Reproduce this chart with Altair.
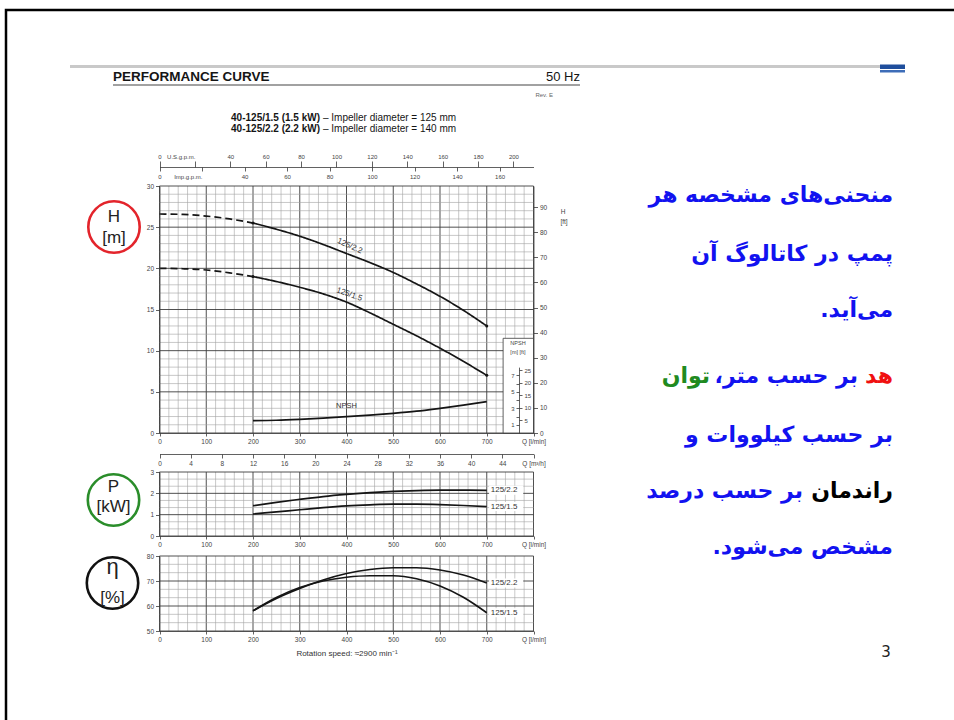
import math
import altair as alt
import pandas as pd

# ---------------------------------------------------------------------------
# Catalogue readings (flow Q in l/min)
# ---------------------------------------------------------------------------
Q_HEAD = [0, 50, 100, 150, 200, 250, 300, 350, 400, 450, 500, 550, 600, 650, 700]
HEAD_22 = [26.6, 26.55, 26.35, 26.0, 25.5, 24.75, 23.9, 22.9, 21.8, 20.7, 19.5, 18.1, 16.6, 14.9, 13.0]
HEAD_15 = [20.0, 19.95, 19.8, 19.45, 19.0, 18.4, 17.7, 16.9, 15.9, 14.6, 13.2, 11.8, 10.3, 8.7, 7.0]

Q_DUTY = [200, 250, 300, 350, 400, 450, 500, 550, 600, 650, 700]
NPSH_M = [1.5, 1.55, 1.66, 1.8, 1.98, 2.18, 2.39, 2.65, 3.0, 3.38, 3.8]
POWER_22 = [1.42, 1.58, 1.72, 1.85, 1.95, 2.03, 2.09, 2.13, 2.15, 2.15, 2.14]
POWER_15 = [1.03, 1.13, 1.23, 1.33, 1.41, 1.46, 1.49, 1.49, 1.47, 1.43, 1.38]
EFF_22 = [58.1, 63.0, 67.0, 70.4, 73.0, 74.6, 75.3, 75.3, 74.4, 72.4, 69.2]
EFF_15 = [58.1, 63.4, 67.4, 70.0, 71.5, 72.1, 72.1, 70.9, 68.0, 63.5, 57.3]

MODELS = ["125/2.2", "125/1.5"]
Q_SOLID_FROM = 200          # head curves are dashed below this flow
Q_LABEL = 400               # where the head / NPSH curves are labelled

# tick values of the different scales
Q_TICKS = list(range(0, 801, 100))
M3H_TICKS = list(range(0, 49, 4))
USGPM_TICKS = list(range(0, 201, 20))
IMPGPM_TICKS = list(range(0, 161, 20))
H_TICKS = list(range(0, 31, 5))
FT_TICKS = list(range(0, 91, 10))
P_TICKS = [0, 1, 2, 3]
ETA_TICKS = [50, 60, 70, 80]
NPSH_M_TICKS = [1, 2, 3, 4, 5, 6, 7]
NPSH_FT_TICKS = [5, 10, 15, 20, 25]

# unit conversions
L_PER_USGAL = 3.785411784
L_PER_IMPGAL = 4.54609
M_PER_FT = 0.3048
Q_MAX = 800.0
H_MAX = 30.0
NPSH_MAX = 8.0

# ---------------------------------------------------------------------------
# Page layout (pixels)
# ---------------------------------------------------------------------------
W, HGT = 954, 720
X_LEFT, X_RIGHT = 159.5, 533.5          # Q = 0 and Q = 800 l/min
Y_H = (433.0, 186.0)                      # H = 0 and H = 30 m
Y_P = (536.0, 472.0)                      # P = 0 and P = 3 kW
Y_E = (631.0, 556.0)                      # eta = 50 and 80 %
Y_GPM_LINE = 167.0
Y_M3H_LINE = 454.0
X_NPSH_AXIS = 519.0
PX_PER_M = (Y_H[0] - Y_H[1]) / H_MAX

FONT = "Liberation Sans"
FA_FONT = "DejaVu Sans"
INK = "#151515"
BLUE, RED, GREEN, BLACK = "#1212f0", "#f01010", "#208a20", "#000000"

ONE = pd.DataFrame({"k": [0]})


def sc(domain, rng):
    return alt.Scale(domain=list(domain), range=list(rng), nice=False, zero=False)


q_sc = sc([0, Q_MAX], [X_LEFT, X_RIGHT])
h_sc = sc([0, H_MAX], Y_H)
ft_sc = sc([0, H_MAX / M_PER_FT], Y_H)
p_sc = sc([0, 3], Y_P)
e_sc = sc([50, 80], Y_E)
usgpm_sc = sc([0, Q_MAX / L_PER_USGAL], [X_LEFT, X_RIGHT])
impgpm_sc = sc([0, Q_MAX / L_PER_IMPGAL], [X_LEFT, X_RIGHT])
m3h_sc = sc([0, Q_MAX * 60 / 1000], [X_LEFT, X_RIGHT])
npsh_rng = [Y_H[0], Y_H[0] - NPSH_MAX * PX_PER_M]
npsh_m_sc = sc([0, NPSH_MAX], npsh_rng)
npsh_ft_sc = sc([0, NPSH_MAX / M_PER_FT], npsh_rng)

AX = dict(title=None, grid=False, labelFont=FONT, labelFontSize=6.5, labelColor="#444",
          tickColor="#3a3a3a", domainColor="#3a3a3a", tickWidth=0.8, domainWidth=0.8,
          labelFlush=False, labelOverlap=False, format="d", labelPadding=2, zindex=1)


def axis_layer(channel, scale, values, **kw):
    opts = dict(AX)
    opts.update(kw)
    ax = alt.Axis(values=values, **opts)
    df = pd.DataFrame({"v": [values[0]]})
    enc = alt.X("v:Q", scale=scale, axis=ax) if channel == "x" else alt.Y("v:Q", scale=scale, axis=ax)
    return alt.Chart(df).mark_point(opacity=0).encode(**{channel: enc})


def text(txt, x, y, size=8, color=INK, align="center", weight="normal", font=FONT,
         baseline="middle", angle=0):
    return alt.Chart(ONE).mark_text(text=txt, align=align, baseline=baseline, fontSize=size,
                                    fontWeight=weight, font=font, color=color,
                                    angle=angle).encode(x=alt.value(x), y=alt.value(y))


def box(x0, x1, y0, y1, **kw):
    return alt.Chart(ONE).mark_rect(**kw).encode(
        x=alt.value(x0), x2=alt.value(x1), y=alt.value(y0), y2=alt.value(y1))


def grid(y_scale, y_lo, y_hi, y_step, y_major):
    rows = []
    q = 0
    while q <= Q_MAX + 1e-9:
        rows.append(dict(x0=q, x1=q, y0=y_lo, y1=y_hi, major=(round(q) % 100 == 0)))
        q += 20
    n = int(round((y_hi - y_lo) / y_step))
    for i in range(n + 1):
        v = y_lo + i * y_step
        rows.append(dict(x0=0, x1=Q_MAX, y0=v, y1=v,
                         major=abs((v - y_lo) / y_major - round((v - y_lo) / y_major)) < 1e-6))
    df = pd.DataFrame(rows)
    return alt.Chart(df).mark_rule().encode(
        x=alt.X("x0:Q", scale=q_sc, axis=None), x2="x1:Q",
        y=alt.Y("y0:Q", scale=y_scale, axis=None), y2="y1:Q",
        color=alt.condition("datum.major", alt.value("#3c3c3c"), alt.value("#a2a2a2")),
        strokeWidth=alt.condition("datum.major", alt.value(0.9), alt.value(0.6)),
    )


def curve(y_scale, q, ys, width=1.7):
    df = pd.DataFrame({"q": q, "y": ys})
    return alt.Chart(df).mark_line(color=INK, strokeWidth=width, interpolate="monotone").encode(
        x=alt.X("q:Q", scale=q_sc, axis=None), y=alt.Y("y:Q", scale=y_scale, axis=None))


def end_labels(y_scale, values):
    df = pd.DataFrame({"q": [Q_DUTY[-1]] * 2, "y": values, "label": MODELS})
    df["q0"] = df["q"] + 5
    df["q1"] = df["q"] + 78
    bg = alt.Chart(df).mark_rect(fill="white", height=9).encode(
        x=alt.X("q0:Q", scale=q_sc, axis=None), x2="q1:Q",
        y=alt.Y("y:Q", scale=y_scale, axis=None))
    tx = alt.Chart(df).mark_text(align="left", dx=4, fontSize=8, font=FONT, color="#333").encode(
        x=alt.X("q:Q", scale=q_sc, axis=None), y=alt.Y("y:Q", scale=y_scale, axis=None),
        text="label:N")
    return [bg, tx]


layers = []

# slide decoration
layers.append(box(70, 880, 65, 68, fill="#c9c9c9"))
layers.append(box(880, 905, 64.5, 69, fill="#1f4e9c"))
layers.append(box(880, 905, 70, 72.5, fill="#3d6db8"))

# header of the data sheet
layers.append(text("PERFORMANCE CURVE", 113, 77, size=13.5, weight="bold", align="left"))
layers.append(text("50 Hz", 580, 77, size=13, align="right"))
layers.append(box(113, 580, 84.5, 85.5, fill="#444"))
layers.append(text("Rev. E", 553, 95, size=6, align="right", color="#666"))
layers.append(text("40-125/1.5 (1.5 kW)", 320, 117.5, size=10, weight="bold", align="right"))
layers.append(text("– Impeller diameter = 125 mm", 323, 117.5, size=10, align="left"))
layers.append(text("40-125/2.2 (2.2 kW)", 320, 128.5, size=10, weight="bold", align="right"))
layers.append(text("– Impeller diameter = 140 mm", 323, 128.5, size=10, align="left"))

# grids
layers.append(grid(h_sc, 0, 30, 1, 5))
layers.append(grid(p_sc, 0, 3, 1 / 3, 1))
layers.append(grid(e_sc, 50, 80, 10 / 3, 10))

# head curves: dashed outside the working range, solid inside
head_rows = []
for model, hs in zip(MODELS, [HEAD_22, HEAD_15]):
    for q, h in zip(Q_HEAD, hs):
        if q <= Q_SOLID_FROM:
            head_rows.append(dict(q=q, h=h, model=model, seg="dash", key=model + "d"))
        if q >= Q_SOLID_FROM:
            head_rows.append(dict(q=q, h=h, model=model, seg="solid", key=model + "s"))
head_df = pd.DataFrame(head_rows)
layers.append(alt.Chart(head_df).mark_line(color=INK, strokeWidth=1.7, interpolate="monotone").encode(
    x=alt.X("q:Q", scale=q_sc, axis=None), y=alt.Y("h:Q", scale=h_sc, axis=None),
    detail="key:N",
    strokeDash=alt.StrokeDash("seg:N", scale=alt.Scale(domain=["dash", "solid"], range=[[7, 4], [1, 0]]),
                              legend=None)))
dots = head_df[(head_df.seg == "solid") & (head_df.q.isin([Q_SOLID_FROM, Q_HEAD[-1]]))]
layers.append(alt.Chart(dots).mark_point(filled=True, size=9, color=INK, opacity=1).encode(
    x=alt.X("q:Q", scale=q_sc, axis=None), y=alt.Y("h:Q", scale=h_sc, axis=None)))

i_lab = Q_HEAD.index(Q_LABEL)
for model, hs, ang in zip(MODELS, [HEAD_22, HEAD_15], [24, 20]):
    df = pd.DataFrame({"q": [Q_LABEL], "h": [hs[i_lab]], "label": [model]})
    layers.append(alt.Chart(df).mark_text(fontSize=8, font=FONT, color="#333", angle=ang, dy=-8).encode(
        x=alt.X("q:Q", scale=q_sc, axis=None), y=alt.Y("h:Q", scale=h_sc, axis=None), text="label:N"))

# NPSH curve and its inset scale
layers.append(curve(h_sc, Q_DUTY, NPSH_M))
j_lab = Q_DUTY.index(Q_LABEL)
layers.append(alt.Chart(pd.DataFrame({"q": [Q_LABEL], "h": [NPSH_M[j_lab]], "label": ["NPSH"]}))
              .mark_text(fontSize=7.5, font=FONT, color="#333", dy=-11)
              .encode(x=alt.X("q:Q", scale=q_sc, axis=None), y=alt.Y("h:Q", scale=h_sc, axis=None),
                      text="label:N"))
npsh_box = pd.DataFrame({"q0": [735], "q1": [Q_MAX], "h0": [0], "h1": [11.5]})
layers.append(alt.Chart(npsh_box).mark_rect(fill="white", stroke="#3a3a3a", strokeWidth=0.8).encode(
    x=alt.X("q0:Q", scale=q_sc, axis=None), x2="q1:Q",
    y=alt.Y("h0:Q", scale=h_sc, axis=None), y2="h1:Q"))
layers.append(text("NPSH", 518, 343, size=5.5, color="#444"))
layers.append(text("[m]  [ft]", 518, 352, size=5.5, color="#444"))
layers.append(axis_layer("y", npsh_m_sc, NPSH_M_TICKS, orient="left", offset=-X_NPSH_AXIS, tickSize=3,
                         labelFontSize=6, labelExpr="datum.value % 2 == 1 ? datum.label : ''"))
layers.append(axis_layer("y", npsh_ft_sc, NPSH_FT_TICKS, orient="right", offset=X_NPSH_AXIS - W,
                         tickSize=3, labelFontSize=6, domain=False))

# power and efficiency curves
for ys in (POWER_22, POWER_15):
    layers.append(curve(p_sc, Q_DUTY, ys))
for ys in (EFF_22, EFF_15):
    layers.append(curve(e_sc, Q_DUTY, ys))
layers += end_labels(p_sc, [POWER_22[-1], POWER_15[-1]])
layers += end_labels(e_sc, [EFF_22[-1], EFF_15[-1]])

# axes of the head chart
q_expr = "datum.value == 800 ? 'Q [l/min]' : datum.label"
layers.append(axis_layer("y", h_sc, H_TICKS, orient="left", offset=-X_LEFT, tickSize=4))
layers.append(axis_layer("y", ft_sc, FT_TICKS, orient="right", offset=X_RIGHT - W, tickSize=4))
layers.append(axis_layer("x", q_sc, Q_TICKS, orient="bottom", offset=Y_H[0] - HGT, tickSize=3,
                         labelExpr=q_expr))
layers.append(axis_layer("x", m3h_sc, M3H_TICKS, orient="bottom", offset=Y_M3H_LINE - HGT, tickSize=4,
                         labelExpr="datum.value == 48 ? 'Q [m³/h]' : datum.label"))
layers.append(axis_layer("x", usgpm_sc, USGPM_TICKS, orient="top", offset=-Y_GPM_LINE, tickSize=6,
                         labelFontSize=6,
                         labelExpr="datum.value == 20 ? 'U.S.g.p.m.' : datum.label",
                         labelAlign={"condition": {"test": "datum.value == 20", "value": "right"},
                                     "value": "center"}))
layers.append(axis_layer("x", impgpm_sc, IMPGPM_TICKS, orient="bottom", offset=Y_GPM_LINE - HGT,
                         tickSize=4, domain=False, labelFontSize=6,
                         labelExpr="datum.value == 20 ? 'Imp.g.p.m.' : datum.label",
                         labelAlign={"condition": {"test": "datum.value == 20", "value": "right"},
                                     "value": "center"}))
layers.append(text("H", 563, 212, size=6.5, color="#444"))
layers.append(text("[ft]", 564, 222, size=6.5, color="#444"))

# axes of the power and efficiency charts
layers.append(axis_layer("y", p_sc, P_TICKS, orient="left", offset=-X_LEFT, tickSize=4))
layers.append(axis_layer("x", q_sc, Q_TICKS, orient="bottom", offset=Y_P[0] - HGT, tickSize=3,
                         labelExpr=q_expr))
layers.append(axis_layer("y", e_sc, ETA_TICKS, orient="left", offset=-X_LEFT, tickSize=4))
layers.append(axis_layer("x", q_sc, Q_TICKS, orient="bottom", offset=Y_E[0] - HGT, tickSize=3,
                         labelExpr=q_expr))
layers.append(text("Rotation speed: ≈2900 min⁻¹", 347, 654, size=8, color="#333"))

# quantity badges
R_BADGE = 29
badge_size = math.pi * R_BADGE ** 2
for (cx, cy, col), lines in zip(
        [(114, 227, "#e3242b"), (113.5, 500, "#2a8d2a"), (112.5, 583, "#111111")],
        [[("H", 217, 17), ("[m]", 238, 17)], [("P", 487, 17), ("[kW]", 507, 17)],
         [("η", 567, 22), ("[%]", 598, 17)]]):
    layers.append(alt.Chart(ONE).mark_point(shape="circle", filled=False, size=badge_size, color=col,
                                             strokeWidth=2.6, opacity=1)
                  .encode(x=alt.value(cx), y=alt.value(cy)))
    for t, ty, fs in lines:
        layers.append(text(t, cx, ty, size=fs, color="#222"))

# explanatory text, right to left; each coloured word is its own text mark,
# placed by the right edge of its slot in the sentence
RLM = "\u200f"
FA_LINES = [
    [("منحنی‌های مشخصه هر", BLUE, 893)],
    [("پمپ در کاتالوگ آن", BLUE, 893)],
    [("می‌آید.", BLUE, 893)],
    [("هد", RED, 893), ("بر حسب متر،", BLUE, 858), ("توان", GREEN, 710)],
    [("بر حسب کیلووات و", BLUE, 893)],
    [("راندمان", BLACK, 893), ("بر حسب درصد", BLUE, 803)],
    [("مشخص می‌شود.", BLUE, 893)],
]
FA_Y = [195, 254, 310, 376, 435, 491, 547]
FA_SIZE = 22
for segs, y in zip(FA_LINES, FA_Y):
    for t, col, xr in segs:
        layers.append(text(t + RLM, xr, y, size=FA_SIZE, color=col, align="right",
                           weight="bold", font=FA_FONT))

layers.append(text("3", 886, 652, size=15, color="#222", font="DejaVu Sans"))

# slide frame
layers.append(box(6, 1000, 10, 800, fillOpacity=0, stroke="#000", strokeWidth=2.5))

chart = (
    alt.layer(*layers)
    .resolve_scale(x="independent", y="independent")
    .resolve_axis(x="independent", y="independent")
    .properties(width=W, height=HGT, padding=0, autosize=alt.AutoSizeParams(type="none"),
                background="white")
    .configure_view(strokeWidth=0)
)

chart.save("out.html", embed_options={"renderer": "svg", "actions": False})
